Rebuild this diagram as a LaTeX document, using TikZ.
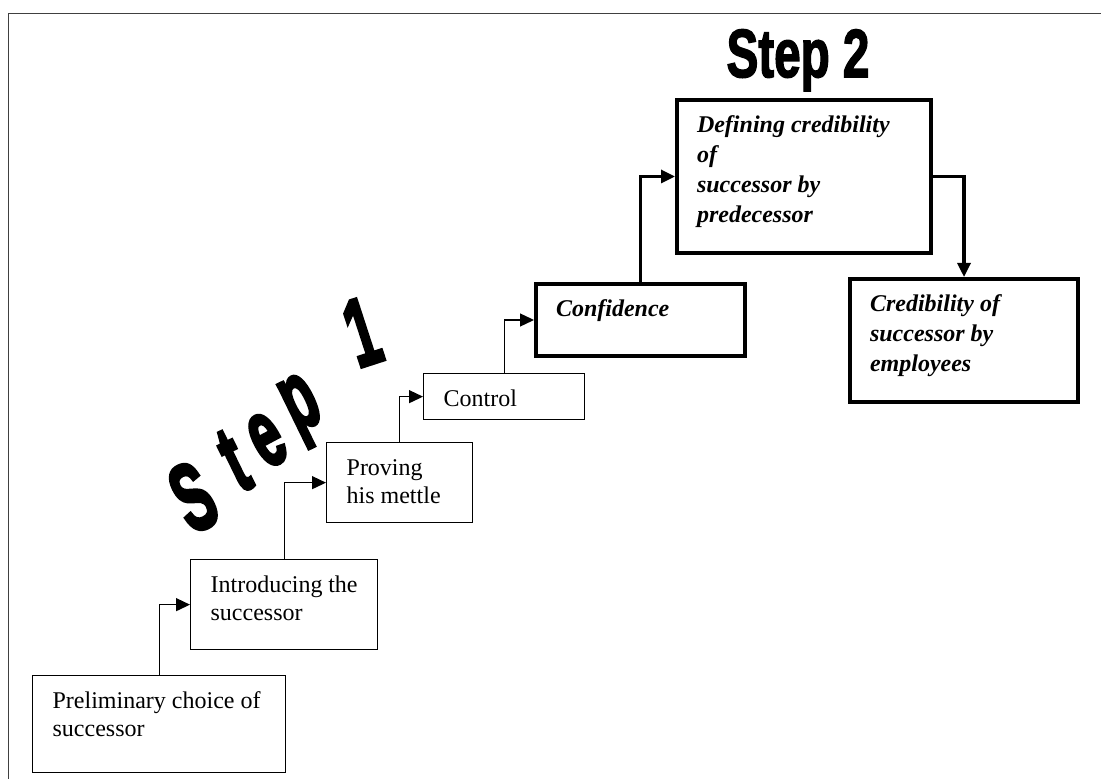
\documentclass[tikz,border=0pt]{standalone}
\usepackage{fontspec}
\setmainfont{Liberation Serif}
\newfontfamily\stepfont{Liberation Sans}[BoldFeatures={FakeBold=2.5}]
\newfontfamily\heavystepfont{Liberation Sans}[BoldFeatures={FakeBold=4}]
\usetikzlibrary{arrows.meta}
\definecolor{framegray}{HTML}{404040}

\begin{document}
\begin{tikzpicture}[x=0.5pt, y=-0.5pt,
	stage/.style={draw, rectangle, anchor=north west, align=flush left, line width=0.65pt,
		inner xsep=10pt, inner ysep=0pt, text height=16.5pt, font=\fontsize{12}{14}\selectfont},
	keystage/.style={stage, line width=2pt, font=\bfseries\itshape\fontsize{12}{15}\selectfont},
	link/.style={draw, line width=0.65pt, -{Triangle[length=7pt, width=6.5pt]}},
	keylink/.style={link, line width=1.6pt},
	steptitle/.style={font=\stepfont\bfseries\fontsize{34}{34}\selectfont, inner sep=0pt},
	stepletter/.style={font=\heavystepfont\bfseries\fontsize{48}{48}\selectfont, inner sep=0pt}
]

\useasboundingbox (0,0) rectangle (1101,779);
\draw [framegray, line width=0.5pt] (1101,14) -| (8,779);

\node [stage, text width=106.5pt, text depth=32pt] (1) at (32,675) {
	Preliminary choice of \\
	successor
};

\node [stage, text width=73.5pt, text depth=28.5pt] (2) at (190,559) {
	Introducing~the \\
	successor
};

\node [stage, text width=53pt, text depth=23.5pt] (3) at (326,442) {
	Proving \\
	his mettle
};

\node [stage, text width=60.5pt, text depth=6.5pt] (4) at (423,373) {Control};

\node [keystage, text width=84.5pt, text depth=19.5pt] (5) at (534,282) {Confidence};

\node [keystage, text width=107pt, text depth=60pt] (6) at (675,98) {
	Defining credibility \\
	of \\
	successor by \\
	predecessor
};

\node [keystage, text width=94pt, text depth=45pt] (7) at (848,277) {
	Credibility of \\
	successor by \\
	employees
};

\path [link] (1) |- (2);
\path [link] (2) |- (3);
\path [link] (3) |- (4);
\path [link] (4) |- (5);
\path [keylink] (5) |- (6);
\path [keylink] (6) -| (7);

% step headings
\node [steptitle, anchor=base] (step2) at (798,77) {\scalebox{0.7}[1]{Step 2}};

\node [stepletter, rotate=26, xscale=0.56] (s) at (193,497) {S};
\node [stepletter, rotate=26, xscale=0.56] (t) at (234,461) {t};
\node [stepletter, rotate=28, xscale=0.56] (e) at (267,440) {e};
\node [stepletter, rotate=26, xscale=0.56] (p) at (304,411) {p};
\node [stepletter, rotate=18, xscale=0.56] (one) at (362,332) {1};

\end{tikzpicture}
\end{document}
